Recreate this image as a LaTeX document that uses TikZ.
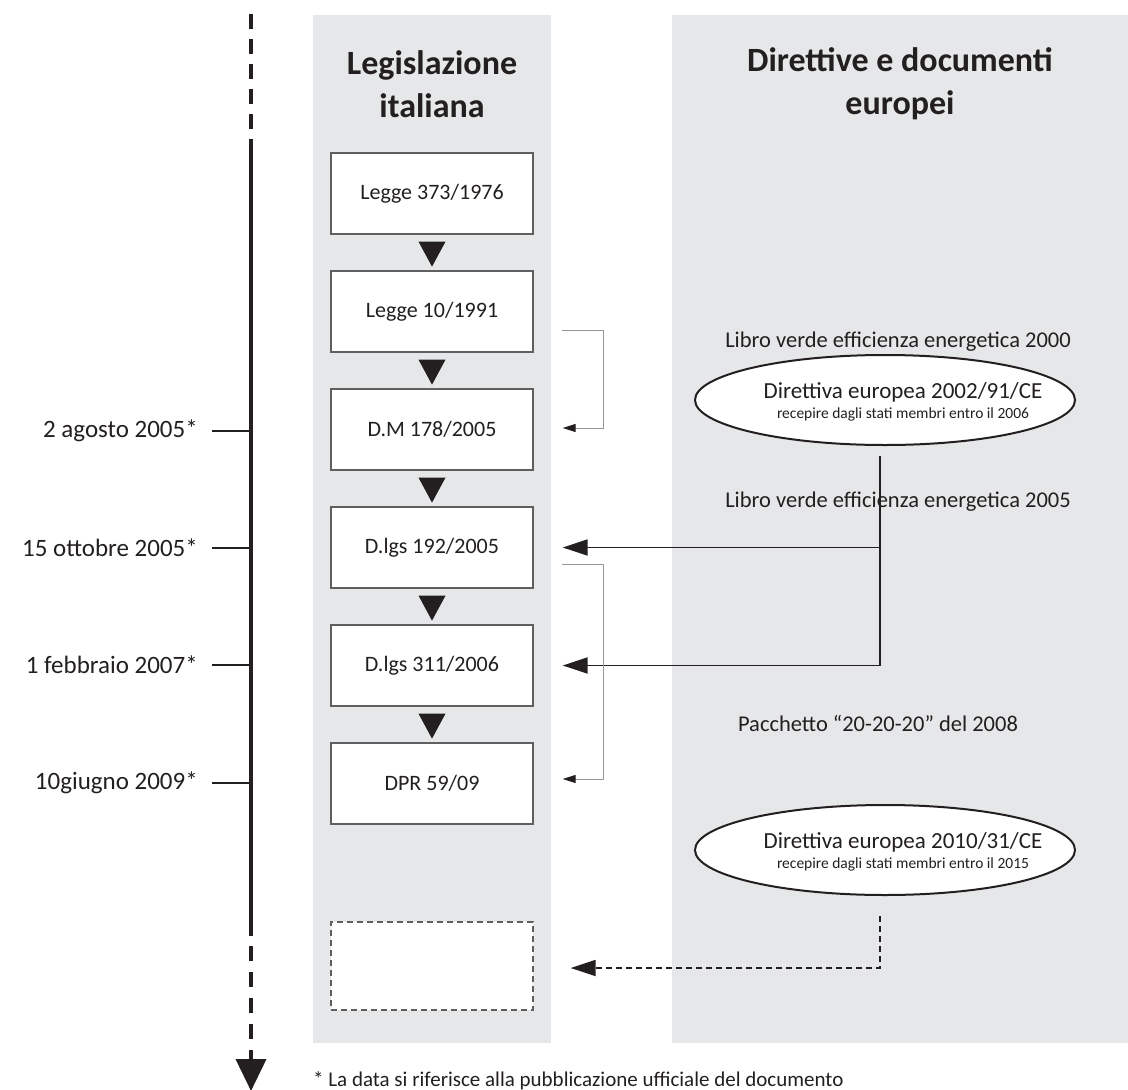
\documentclass[tikz,border=0pt]{standalone}
\usepackage{fontspec}
\setmainfont{Carlito}
\usetikzlibrary{shapes.geometric,arrows.meta,calc}
\definecolor{panel}{RGB}{230,231,232}
\definecolor{ink}{RGB}{35,31,32}
\definecolor{boxline}{RGB}{95,95,95}
\definecolor{brkline}{RGB}{150,150,150}
\begin{document}
\begin{tikzpicture}[x=1pt,y=-1pt,
  heading/.style={font=\fontsize{34}{43}\selectfont\bfseries, text=ink, align=center, inner sep=0pt},
  lawbox/.style={draw=boxline, line width=1.3pt, fill=white, minimum width=202pt, minimum height=81pt, inner sep=0pt, font=\fontsize{22}{26}\selectfont, text=ink},
  futurebox/.style={lawbox, dashed, dash pattern=on 6pt off 4pt, minimum height=88pt},
  downtri/.style={fill=ink},
  datelbl/.style={font=\fontsize{25}{30}\selectfont, text=ink, anchor=east, inner sep=0pt},
  tick/.style={draw=ink, line width=1.6pt},
  timeline/.style={draw=ink, line width=4pt},
  eunote/.style={font=\fontsize{22.5}{27}\selectfont, text=ink, inner sep=0pt},
  euell/.style={ellipse, draw=ink, line width=2pt, fill=white, minimum width=380pt, minimum height=90pt, inner sep=0pt},
  eutext/.style={align=center, font=\fontsize{23}{20}\selectfont, text=ink, inner sep=0pt},
  conn/.style={draw=ink, line width=1.8pt, -{Triangle[length=25pt,width=16pt]}},
  dconn/.style={conn, dash pattern=on 6pt off 4pt},
  brk/.style={draw=brkline, line width=1pt, -{Triangle[length=13pt,width=8pt,color=ink,fill=ink]}},
]
\useasboundingbox (0,0) rectangle (1128,1090);

% panels
\fill[panel] (313,15) rectangle (551,1043);
\fill[panel] (672,15) rectangle (1128,1043);

% headings
\node[heading] (hl) at (432,84) {Legislazione\\italiana};
\node[heading] (hr) at (900,84) {Direttive e documenti\\europei};

% law boxes
\node[lawbox] (b1) at (432,193.5) {Legge 373/1976};
\node[lawbox] (b2) at (432,311.5) {Legge 10/1991};
\node[lawbox] (b3) at (432,429.5) {D.M 178/2005};
\node[lawbox] (b4) at (432,547.5) {D.lgs 192/2005};
\node[lawbox] (b5) at (432,665.5) {D.lgs 311/2006};
\node[lawbox] (b6) at (432,783.5) {DPR 59/09};
\node[futurebox] (b7) at (432,966) {};

% triangles between boxes
\foreach \a in {b1,b2,b3,b4,b5}{
  \fill[downtri] ($(\a.south)+(-13.5,7)$) -- ($(\a.south)+(13.5,7)$) -- ($(\a.south)+(0,32)$) -- cycle;
}

% timeline
\coordinate (t0) at (251,14);
\coordinate (t1) at (251,140);
\coordinate (t2) at (251,936);
\coordinate (t3) at (251,946);
\coordinate (t4) at (251,1091);
\draw[timeline, dash pattern=on 15pt off 10pt] (t0) -- (t1);
\draw[timeline] (t1) -- (t2);
\draw[timeline, dash pattern=on 15pt off 11pt, -{Triangle[length=32pt,width=30pt]}] (t3) -- (t4);

% dates
\node[datelbl] (d1) at (198,431) {2 agosto 2005*};
\node[datelbl] (d2) at (198,548) {15 ottobre 2005*};
\node[datelbl] (d3) at (198,665) {1 febbraio 2007*};
\node[datelbl] (d4) at (198,783) {10giugno 2009*};
\foreach \d in {d1,d2,d3,d4}{
  \draw[tick] ($(\d.east)+(14,0)$) -- ($(\d.east -| t1)$);
}

% european side
\node[eunote] (lv1) at (898,342) {Libro verde efficienza energetica 2000};
\node[euell] (e1) at (885,400) {};
\node[eutext] (e1t) at (903,402) {Direttiva europea 2002/91/CE\\{\fontsize{15.5}{18}\selectfont recepire dagli stati membri entro il 2006}};
\node[eunote] (lv2) at (898,502) {Libro verde efficienza energetica 2005};
\node[eunote] (pk) at (878,723) {Pacchetto “20-20-20” del 2008};
\node[euell] (e2) at (885,850) {};
\node[eutext] (e2t) at (903,852) {Direttiva europea 2010/31/CE\\{\fontsize{15.5}{18}\selectfont recepire dagli stati membri entro il 2015}};

% connectors from directive 2002/91/CE
\coordinate (v1) at ($(e1.south)+(-5,10)$);
\draw[draw=ink, line width=1.8pt] (v1) -- (v1 |- b5.east);
\draw[conn] (v1 |- b4.east) -- ($(b4.east)+(29,0)$);
\draw[conn] (v1 |- b5.east) -- ($(b5.east)+(29,0)$);

% connector from directive 2010/31/CE
\coordinate (v2) at ($(e2.south)+(-5,20)$);
\draw[dconn] (v2) |- ($(b7.east)+(37,2)$);

% brackets
\draw[brk] ($(b2.east)+(28,18.5)$) -- ++(42,0) |- ($(b3.east)+(29,-1.5)$);
\draw[brk] ($(b4.east)+(28,16.5)$) -- ++(42,0) |- ($(b6.east)+(29,-4.5)$);

% footnote
\node[anchor=base west, font=\fontsize{21}{25}\selectfont, text=ink, inner sep=0pt] (fn) at (313,1086) {* La data si riferisce alla pubblicazione ufficiale del documento};
\end{tikzpicture}
\end{document}
